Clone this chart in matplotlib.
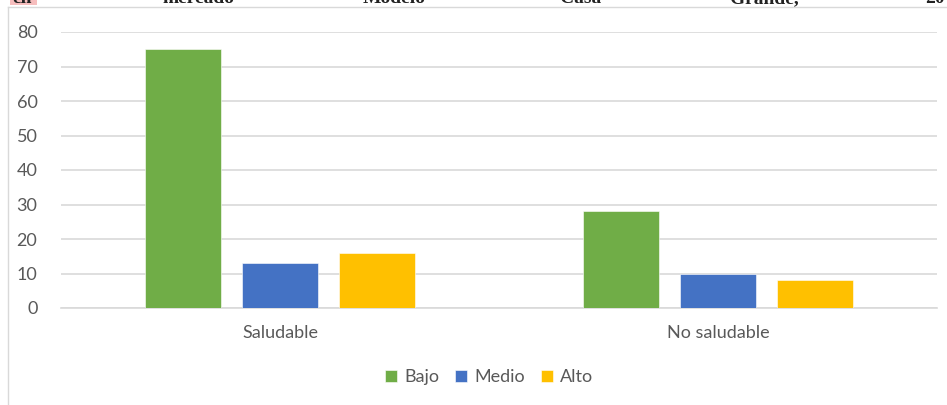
import matplotlib
matplotlib.use("Agg")
import matplotlib.pyplot as plt
from matplotlib.patches import Rectangle
import numpy as np

categories = ["Saludable", "No saludable"]
series_names = ["Bajo", "Medio", "Alto"]
bajo = [75, 28]
medio = [13, 10]
alto = [16, 8]
y_ticks = [0, 10, 20, 30, 40, 50, 60, 70, 80]

colors = ["#70AD47", "#4472C4", "#FFC000"]
text_color = "#595959"
grid_color = "#D9D9D9"

plt.rcParams["font.family"] = ["Lato", "DejaVu Sans"]

W, H = 947, 405
fig = plt.figure(figsize=(W / 100, H / 100), dpi=100)

# chart frame (left and top edges visible)
fig.add_artist(plt.Line2D([8 / W, 8 / W], [0, 1 - 7 / H], transform=fig.transFigure,
                          color="#D9D9D9", lw=1))
fig.add_artist(plt.Line2D([8 / W, 1], [1 - 7 / H, 1 - 7 / H], transform=fig.transFigure,
                          color="#D9D9D9", lw=1))

# running text of the page above the chart, cut by the top edge
fig.add_artist(Rectangle((10 / W, 1 - 5 / H), 27 / W, 5 / H, transform=fig.transFigure,
                         color="#F6BDBD", lw=0))
for word, xp in [("en", 12), ("mercado", 162), ("Modelo", 363), ("Casa", 560),
                 ("Grande,", 730), ("20", 925)]:
    fig.text(xp / W, 1 - 3 / H, word, fontsize=14, fontweight="bold",
             family="Liberation Serif", va="baseline", ha="left", color="#222222")

ax = fig.add_axes([61 / W, 1 - 308 / H, (937 - 61) / W, (308 - 32) / H])

x = np.arange(len(categories))
width = 76 / 438
step = 97 / 438
for i, (vals, name) in enumerate(zip([bajo, medio, alto], series_names)):
    ax.bar(x + (i - 1) * step, vals, width, color=colors[i], label=name,
           edgecolor="white", linewidth=0.4, zorder=3)

ax.set_xlim(-0.5, 1.5)
ax.set_ylim(0, 80)
ax.set_yticks(y_ticks)
ax.set_xticks(x)
ax.set_xticklabels(categories)
ax.yaxis.grid(True, color=grid_color, lw=1.2, zorder=0)
ax.tick_params(axis="both", length=0, colors=text_color, labelsize=13)
ax.tick_params(axis="y", pad=17)
ax.tick_params(axis="x", pad=12)
for s in ["top", "right", "left"]:
    ax.spines[s].set_visible(False)
ax.spines["bottom"].set_color(grid_color)
ax.spines["bottom"].set_linewidth(1.2)

leg = fig.legend(loc="center", bbox_to_anchor=(489 / W, 1 - 377 / H), ncol=3,
                 frameon=False, fontsize=13, handlelength=0.65, handleheight=0.65,
                 handletextpad=0.4, columnspacing=0.9)
for t in leg.get_texts():
    t.set_color(text_color)

fig.savefig("out.png", dpi=100)
